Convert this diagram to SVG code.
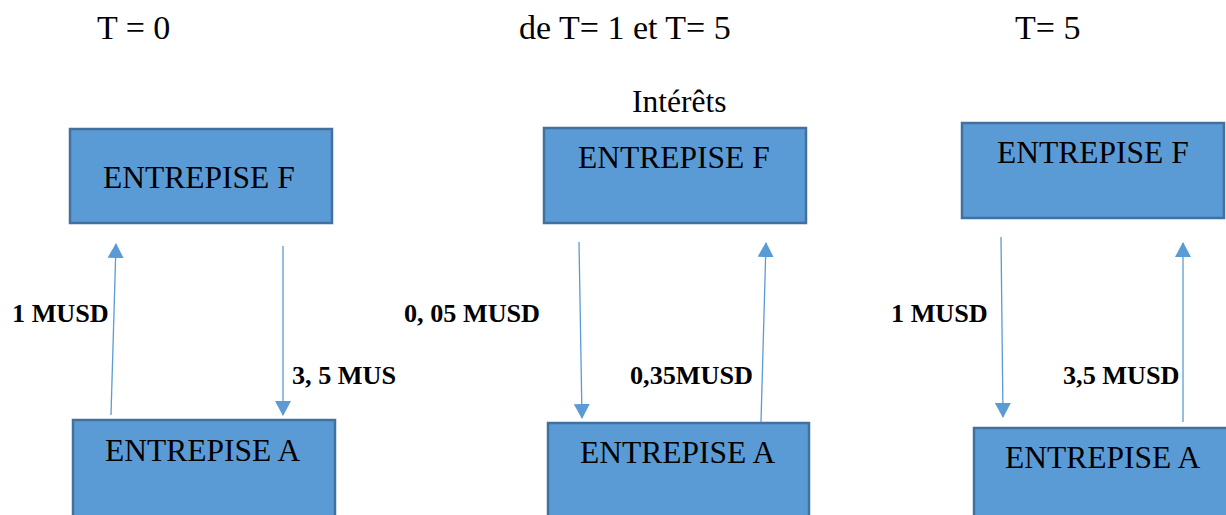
<svg xmlns="http://www.w3.org/2000/svg" width="1226" height="515" viewBox="0 0 1226 515">
<style>
.box{fill:#5B9BD5;stroke:#41719C;stroke-width:2.5}
.bt{font-family:"Liberation Serif","Times New Roman",serif;font-size:31.5px;fill:#000}
.ttl{font-family:"Liberation Serif","Times New Roman",serif;font-size:34px;fill:#000}
.lbl{font-family:"Liberation Serif","Times New Roman",serif;font-size:26.2px;font-weight:bold;fill:#000}
.arr{stroke:#5B9BD5;stroke-width:1.3;fill:none;marker-end:url(#ah)}
</style>
<defs>
<marker id="ah" viewBox="0 0 15 16" refX="14" refY="8" markerWidth="15" markerHeight="16" orient="auto" markerUnits="userSpaceOnUse">
<path d="M0,0 L15,8 L0,16 z" fill="#5B9BD5"/>
</marker>
</defs>
<rect width="1226" height="515" fill="#fff"/>
<g id="titles">
<text class="ttl" x="97" y="39">T = 0</text>
<text class="ttl" x="519" y="39">de T= 1 et T= 5</text>
<text class="ttl" x="1015" y="39">T= 5</text>
<text class="bt" x="632" y="112">Intérêts</text>
</g>
<g id="f1"><rect class="box" x="70" y="129" width="262" height="94"/><text class="bt" x="103" y="188">ENTREPISE F</text></g>
<g id="a1"><rect class="box" x="73" y="420" width="262" height="100"/><text class="bt" x="105" y="461">ENTREPISE A</text></g>
<g id="f2"><rect class="box" x="544" y="128" width="262" height="95"/><text class="bt" x="578" y="168">ENTREPISE F</text></g>
<g id="a2"><rect class="box" x="548" y="423" width="261" height="100"/><text class="bt" x="580" y="463">ENTREPISE A</text></g>
<g id="f3"><rect class="box" x="962" y="123" width="262" height="95"/><text class="bt" x="997" y="163">ENTREPISE F</text></g>
<g id="a3"><rect class="box" x="974" y="428" width="262" height="100"/><text class="bt" x="1005" y="468">ENTREPISE A</text></g>
<g id="connectors">
<line class="arr" x1="111" y1="415" x2="116" y2="244"/>
<line class="arr" x1="283" y1="246" x2="283" y2="415"/>
<line class="arr" x1="579" y1="242" x2="582" y2="418"/>
<line class="arr" x1="761" y1="422" x2="766" y2="243"/>
<line class="arr" x1="1001" y1="237" x2="1003" y2="417"/>
<line class="arr" x1="1183" y1="422" x2="1183" y2="243"/>
</g>
<g id="labels">
<text class="lbl" x="12" y="322">1 MUSD</text>
<text class="lbl" x="292" y="384">3, 5 MUS</text>
<text class="lbl" x="404" y="322">0, 05 MUSD</text>
<text class="lbl" x="630" y="384">0,35MUSD</text>
<text class="lbl" x="891" y="322">1 MUSD</text>
<text class="lbl" x="1063" y="384">3,5 MUSD</text>
</g>
</svg>
